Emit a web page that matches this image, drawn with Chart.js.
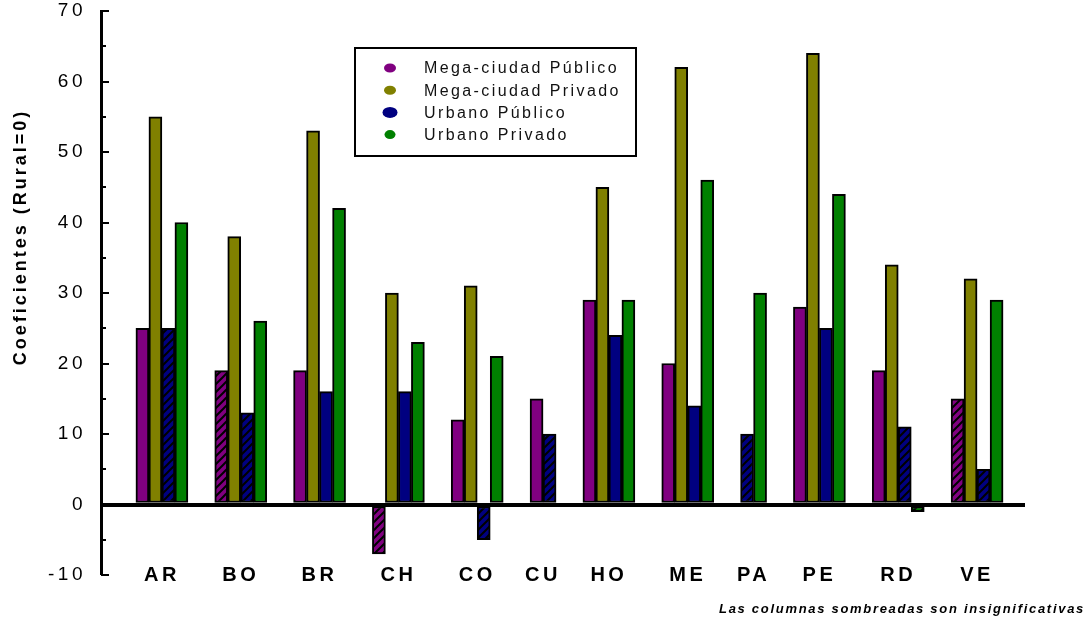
<!DOCTYPE html>
<html lang="es">
<head>
  <meta charset="UTF-8" />
  <title>Coeficientes (Rural=0)</title>
  <!-- Chart.js (CDN) -->
  <script src="https://cdn.jsdelivr.net/npm/chart.js@4.4.1/dist/chart.umd.min.js"></script>
  <style>
    * { margin: 0; padding: 0; box-sizing: border-box; }
    body { background: #ffffff; }
    #chart { display: block; }
  </style>
</head>
<body>
  <canvas id="chart" width="1091" height="623"></canvas>

  <script>
    // ==== Data ====
    const countries = ['AR', 'BO', 'BR', 'CH', 'CO', 'CU', 'HO', 'ME', 'PA', 'PE', 'RD', 'VE'];
    const megaPublico   = [25, 19, 19, -7, 12, 15, 29, 20, null, 28, 19, 15];
    const megaPrivado   = [55, 38, 53, 30, 31, null, 45, 62, null, 64, 34, 32];
    const urbanoPublico = [25, 13, 16, 16, -5, 10, 24, 14, 10, 25, 11, 5];
    const urbanoPrivado = [40, 26, 42, 23, 21, null, 29, 46, 30, 44, -1, 29];

    // true = not significant (hatched column)
    const megaPublicoNS   = [false, true, false, true, false, false, false, false, false, false, false, true];
    const megaPrivadoNS   = [false, false, false, false, false, false, false, false, false, false, false, false];
    const urbanoPublicoNS = [true, true, false, false, true, true, false, false, true, false, true, true];
    const urbanoPrivadoNS = [false, false, false, false, false, false, false, false, false, false, true, false];

    const yMin = -10, yMax = 70, yStep = 10;
    const note = 'Las columnas sombreadas son insignificativas';
    const yTitle = 'Coeficientes (Rural=0)';

    // ==== Group layout: groups only hold the bars they have ====
    const allSeries = [megaPublico, megaPrivado, urbanoPublico, urbanoPrivado];
    const barsPerGroup = countries.map((_, i) => allSeries.filter(s => s[i] !== null).length);
    const GAP = 2.07;          // empty bar slots between groups
    const centers = [];
    let pos = 0;
    barsPerGroup.forEach(n => { centers.push(pos + n / 2); pos += n + GAP; });
    const xMin = -2.69;
    const xMax = pos - GAP + 1.69;

    const FONT = '"Liberation Sans", Arial, Helvetica, sans-serif';
    Chart.defaults.font.family = FONT;

    // hatch pattern for non significant bars
    function hatch(color) {
      const s = 8;
      const c = document.createElement('canvas');
      c.width = s; c.height = s;
      const g = c.getContext('2d');
      g.fillStyle = color;
      g.fillRect(0, 0, s, s);
      g.strokeStyle = '#000';
      g.lineWidth = 2;
      g.beginPath();
      g.moveTo(-1, s + 1); g.lineTo(s + 1, -1);
      g.moveTo(-1, 1); g.lineTo(1, -1);
      g.moveTo(s - 1, s + 1); g.lineTo(s + 1, s - 1);
      g.stroke();
      return g.createPattern(c, 'repeat');
    }

    function series(label, values, flags, color) {
      const pattern = hatch(color);
      return {
        label: label,
        data: values.map((v, i) => ({ x: centers[i], y: v })),
        backgroundColor: ctx => flags[ctx.dataIndex] ? pattern : color,
        legendColor: color,
        borderColor: '#000',
        borderWidth: 2,
        borderSkipped: false,
        barThickness: 13,
        skipNull: true
      };
    }

    // inner tick marks, axis title, legend box and footnote
    const decor = {
      id: 'decor',
      beforeLayout(chart) { chart.ctx.letterSpacing = '3.5px'; },
      beforeDraw(chart) { chart.ctx.letterSpacing = '3.5px'; },
      afterDraw(chart) {
        const ctx = chart.ctx;
        const y = chart.scales.y;
        const left = chart.chartArea.left;

        // tick marks on the inside of the y axis
        ctx.save();
        ctx.strokeStyle = '#000';
        ctx.lineWidth = 2;
        for (let v = yMin; v <= yMax; v += yStep / 2) {
          const py = Math.round(y.getPixelForValue(v));
          const len = v % yStep === 0 ? 8 : 5;
          ctx.beginPath();
          ctx.moveTo(left, py);
          ctx.lineTo(left + len, py);
          ctx.stroke();
        }
        ctx.restore();

        // y axis title
        ctx.save();
        ctx.letterSpacing = '3px';
        ctx.translate(21, 237);
        ctx.rotate(-Math.PI / 2);
        ctx.font = 'bold 18px ' + FONT;
        ctx.fillStyle = '#000';
        ctx.textAlign = 'center';
        ctx.textBaseline = 'middle';
        ctx.fillText(yTitle, 0, 0);
        ctx.restore();

        // legend
        ctx.save();
        ctx.fillStyle = '#fff';
        ctx.fillRect(355, 48, 281, 108);
        ctx.strokeStyle = '#000';
        ctx.lineWidth = 2;
        ctx.strokeRect(355, 48, 281, 108);
        ctx.letterSpacing = '2.4px';
        ctx.font = '16px ' + FONT;
        ctx.textAlign = 'left';
        ctx.textBaseline = 'middle';
        const radii = [[6, 4.5], [6, 4.5], [7.5, 5.5], [5.5, 4.5]];
        chart.data.datasets.forEach((ds, i) => {
          const cy = 68 + i * 22.2;
          ctx.fillStyle = ds.legendColor;
          ctx.beginPath();
          ctx.ellipse(390, cy, radii[i][0], radii[i][1], 0, 0, Math.PI * 2);
          ctx.fill();
          ctx.fillStyle = '#111';
          ctx.fillText(ds.label, 424, cy + 1);
        });
        ctx.restore();

        // footnote
        ctx.save();
        ctx.letterSpacing = '1.7px';
        ctx.font = 'italic bold 13px ' + FONT;
        ctx.fillStyle = '#000';
        ctx.textAlign = 'right';
        ctx.textBaseline = 'middle';
        ctx.fillText(note, 1085, 609);
        ctx.restore();
      }
    };

    const chart = new Chart(document.getElementById('chart'), {
      type: 'bar',
      data: {
        datasets: [
          series('Mega-ciudad Público', megaPublico, megaPublicoNS, '#800080'),
          series('Mega-ciudad Privado', megaPrivado, megaPrivadoNS, '#808000'),
          series('Urbano Público', urbanoPublico, urbanoPublicoNS, '#000080'),
          series('Urbano Privado', urbanoPrivado, urbanoPrivadoNS, '#008000')
        ]
      },
      options: {
        responsive: false,
        devicePixelRatio: 1,
        animation: false,
        layout: { padding: { left: 0, right: 66, top: 0, bottom: 36 } },
        plugins: {
          legend: { display: false },
          title: { display: false },
          tooltip: { enabled: false }
        },
        scales: {
          x: {
            type: 'linear',
            min: xMin,
            max: xMax,
            offset: false,
            grid: { display: false },
            border: { display: false },
            afterBuildTicks: scale => { scale.ticks = centers.map(v => ({ value: v })); },
            afterFit: scale => { scale.height = 12; },
            ticks: {
              autoSkip: false,
              maxRotation: 0,
              mirror: true,
              padding: -12,
              color: '#000',
              font: { size: 20, weight: 'bold' },
              callback: (value, index) => countries[index]
            }
          },
          y: {
            min: yMin,
            max: yMax,
            ticks: {
              stepSize: yStep,
              padding: 15,
              color: '#000',
              font: { size: 19 }
            },
            grid: {
              drawTicks: false,
              color: c => c.tick && c.tick.value === 0 ? '#000' : 'rgba(0,0,0,0)',
              lineWidth: c => c.tick && c.tick.value === 0 ? 4 : 0
            },
            border: { display: true, color: '#000', width: 3 },
            afterFit: scale => {
              scale.width = 101;
              scale.paddingTop = 11;
              scale.paddingBottom = 11;
            }
          }
        }
      },
      plugins: [decor]
    });
  </script>
</body>
</html>
